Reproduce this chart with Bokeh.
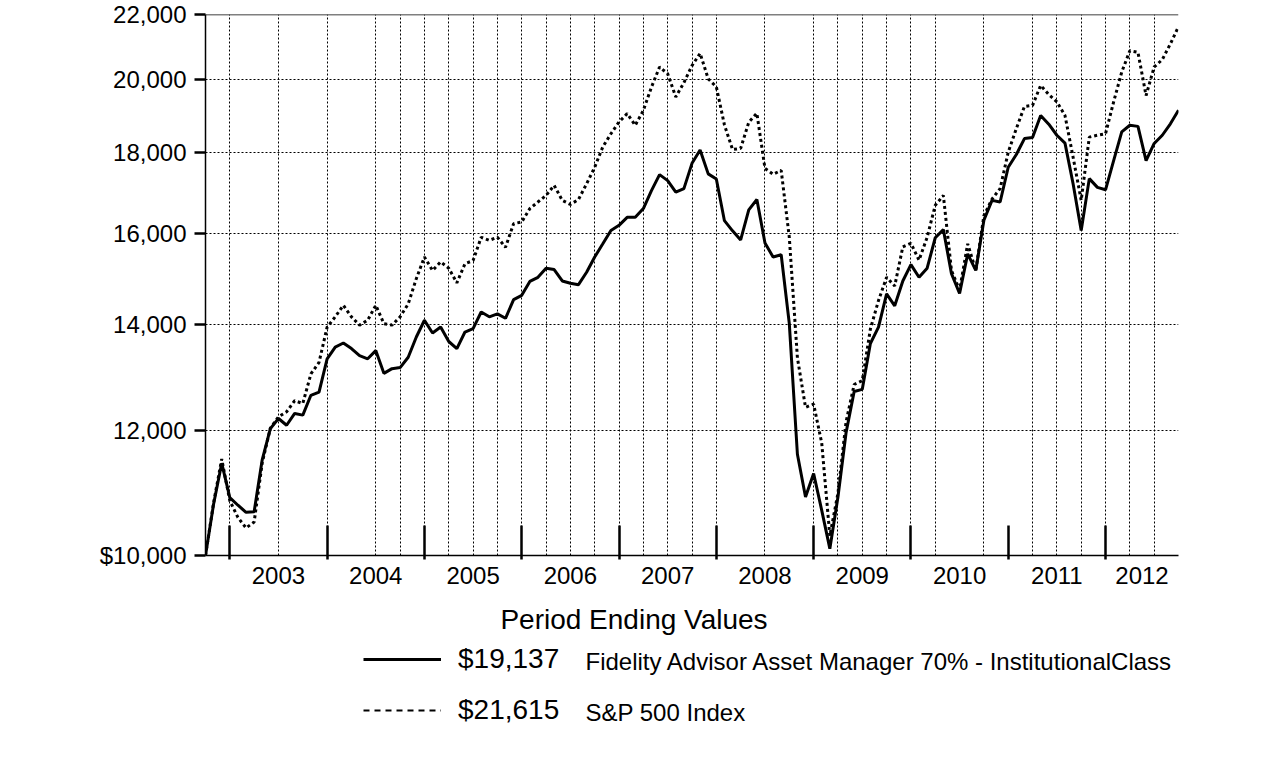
from bokeh.plotting import figure
from bokeh.layouts import column
from bokeh.models import (Range1d, FixedTicker, NumeralTickFormatter, Span,
                          Legend, LegendItem, Label)
from bokeh.embed import file_html
from bokeh.resources import INLINE

# Monthly values of a $10,000 investment, Sep 2002 (index 0) .. Sep 2012 (index 120)
fund_values = [
    10000, 10780, 11440, 10880, 10760, 10650, 10660, 11500, 12030, 12210,
    12090, 12300, 12270, 12630, 12690, 13320, 13550, 13630, 13520, 13380,
    13320, 13480, 13040, 13130, 13150, 13350, 13750, 14090, 13830, 13950,
    13660, 13520, 13850, 13920, 14260, 14160, 14220, 14130, 14520, 14610,
    14910, 15000, 15200, 15170, 14920, 14870, 14840, 15110, 15450, 15750,
    16060, 16180, 16370, 16370, 16580, 17020, 17420, 17270, 16980, 17070,
    17710, 18060, 17440, 17310, 16290, 16050, 15840, 16550, 16800, 15770,
    15450, 15500, 14020, 11590, 10890, 11270, 10680, 10100, 10890, 11960,
    12700, 12740, 13620, 13950, 14640, 14390, 14920, 15280, 15000, 15200,
    15890, 16080, 15080, 14650, 15520, 15150, 16300, 16780, 16740, 17610,
    17940, 18360, 18390, 18990, 18750, 18450, 18240, 17190, 16060, 17320,
    17100, 17040, 17780, 18540, 18720, 18690, 17780, 18230, 18450, 18760,
    19137,
]
sp500_values = [
    10000, 10800, 11510, 10830, 10570, 10410, 10500, 11450, 12040, 12240,
    12330, 12530, 12480, 13030, 13250, 13950, 14160, 14400, 14160, 13990,
    14090, 14400, 14020, 13990, 14160, 14430, 14970, 15450, 15150, 15340,
    15200, 14880, 15300, 15370, 15900, 15830, 15900, 15670, 16220, 16260,
    16580, 16740, 16900, 17150, 16780, 16680, 16800, 17190, 17610, 18140,
    18490, 18810, 19040, 18720, 19130, 19790, 20380, 20180, 19510, 19920,
    20420, 20790, 20030, 19800, 18730, 18070, 18100, 18800, 19050, 17580,
    17430, 17530, 15900, 13340, 12410, 12470, 11780, 10290, 10950, 12150,
    12830, 12900, 13910, 14500, 15000, 14810, 15680, 15760, 15380, 15900,
    16660, 16900, 15150, 14720, 15750, 15150, 16410, 16810, 17070, 18000,
    18630, 19240, 19270, 19840, 19580, 19370, 18990, 17870, 16780, 18400,
    18450, 18490, 19370, 20230, 20870, 20820, 19550, 20380, 20600, 21080,
    21615,
]
months = list(range(len(fund_values)))

fund_name = "Fidelity Advisor Asset Manager 70% -  InstitutionalClass"
index_name = "S&P 500 Index"
axis_title = "Period Ending Values"

year_labels = ["2003", "2004", "2005", "2006", "2007", "2008", "2009", "2010", "2011", "2012"]
year_label_pos = [9, 21, 33, 45, 57, 69, 81, 93, 105, 115.5]
year_bounds = [3, 15, 27, 39, 51, 63, 75, 87, 99, 111]
grid_months = [3, 9, 15, 21, 24, 27, 30, 33, 36, 39, 42, 45, 48, 51, 54, 57, 60, 63,
               69, 75, 78, 81, 84, 87, 90, 96, 102, 105, 108, 111, 114, 117]
y_ticks = [10000, 12000, 14000, 16000, 18000, 20000, 22000]
y_grid = [12000, 14000, 16000, 18000, 20000]

FONT = "Liberation Sans"
W = 1270
LEFT = 205

p = figure(width=W, height=600, x_range=Range1d(0, 120), y_range=Range1d(10000, 22000),
           y_axis_type="log", output_backend="svg", toolbar_location=None,
           min_border_left=LEFT, min_border_right=W - 1178, min_border_top=14,
           min_border_bottom=45)
p.outline_line_color = None
p.background_fill_color = "white"
p.border_fill_color = "white"

p.line(months, fund_values, line_color="black", line_width=3)
p.line(months, sp500_values, line_color="black", line_width=3, line_dash="3 3")

# y axis
ya = p.yaxis[0]
ya.ticker = FixedTicker(ticks=y_ticks)
ya.formatter = NumeralTickFormatter(format="0,0")
ya.major_label_overrides = {y_ticks[0]: "$" + format(y_ticks[0], ",")}
ya.major_tick_in = 0
ya.major_tick_out = 11
ya.major_tick_line_width = 2.5
ya.major_tick_line_color = "black"
ya.minor_tick_line_color = None
ya.axis_line_width = 1.5
ya.axis_line_color = "black"
ya.major_label_standoff = 8
ya.major_label_text_font = FONT
ya.major_label_text_font_size = "24px"
ya.major_label_text_color = "black"

# x axis
xa = p.xaxis[0]
xa.ticker = FixedTicker(ticks=year_label_pos, minor_ticks=year_bounds)
xa.major_label_overrides = dict(zip(year_label_pos, year_labels))
xa.major_tick_line_color = None
xa.major_tick_in = 0
xa.major_tick_out = 0
xa.minor_tick_in = 30
xa.minor_tick_out = 4
xa.minor_tick_line_width = 2.5
xa.minor_tick_line_color = "black"
xa.axis_line_width = 1.5
xa.axis_line_color = "black"
xa.major_label_standoff = 7
xa.major_label_text_font = FONT
xa.major_label_text_font_size = "24px"
xa.major_label_text_color = "black"

# grids
p.xgrid.ticker = FixedTicker(ticks=grid_months)
p.ygrid.ticker = FixedTicker(ticks=y_grid)
for g in (p.xgrid[0], p.ygrid[0]):
    g.grid_line_color = "black"
    g.grid_line_dash = "2 2"
    g.grid_line_width = 1

p.add_layout(Span(location=y_ticks[-1], dimension="width", line_color="black", line_width=1.5))

# ---- legend panel below the chart (its frame is aligned with the chart frame) ----
H2 = 150
f2 = figure(width=W, height=H2, x_range=Range1d(0, 1), y_range=Range1d(0, 1),
            output_backend="svg", toolbar_location=None, min_border=0,
            x_axis_location=None, y_axis_location=None)
f2.outline_line_color = None
f2.grid.visible = False
f2.background_fill_color = "white"
f2.border_fill_color = "white"

# legend sample renderers (no visible data)
nan = float("nan")
r1 = f2.line(x=[nan], y=[nan], line_color="black", line_width=3)
r2 = f2.line(x=[nan], y=[nan], line_color="black", line_width=2, line_dash="6 5")

f2.add_layout(Label(x=633.5 - LEFT, y=131, x_units="screen", y_units="screen", text=axis_title,
                    text_align="center", text_baseline="middle", text_font=FONT,
                    text_font_size="28px", text_color="black"))

legend_style = dict(orientation="vertical", padding=0, margin=0, border_line_color=None,
                    background_fill_alpha=0, glyph_width=78, glyph_height=32, label_height=32,
                    label_standoff=17, label_text_font=FONT, label_text_font_size="28px",
                    label_text_color="black", label_text_baseline="middle")
leg1 = Legend(items=[LegendItem(label="$" + format(fund_values[-1], ","), renderers=[r1])],
              location=(363 - LEFT, 75), **legend_style)
leg2 = Legend(items=[LegendItem(label="$" + format(sp500_values[-1], ","), renderers=[r2])],
              location=(363 - LEFT, 24), **legend_style)
f2.add_layout(leg1)
f2.add_layout(leg2)

f2.add_layout(Label(x=585 - LEFT, y=89, x_units="screen", y_units="screen", text=fund_name,
                    text_align="left", text_baseline="middle", text_font=FONT,
                    text_font_size="24px", text_color="black"))
f2.add_layout(Label(x=585 - LEFT, y=38, x_units="screen", y_units="screen", text=index_name,
                    text_align="left", text_baseline="middle", text_font=FONT,
                    text_font_size="24px", text_color="black"))

layout = column(p, f2, spacing=0)
open("out.html", "w").write(file_html(layout, INLINE))
